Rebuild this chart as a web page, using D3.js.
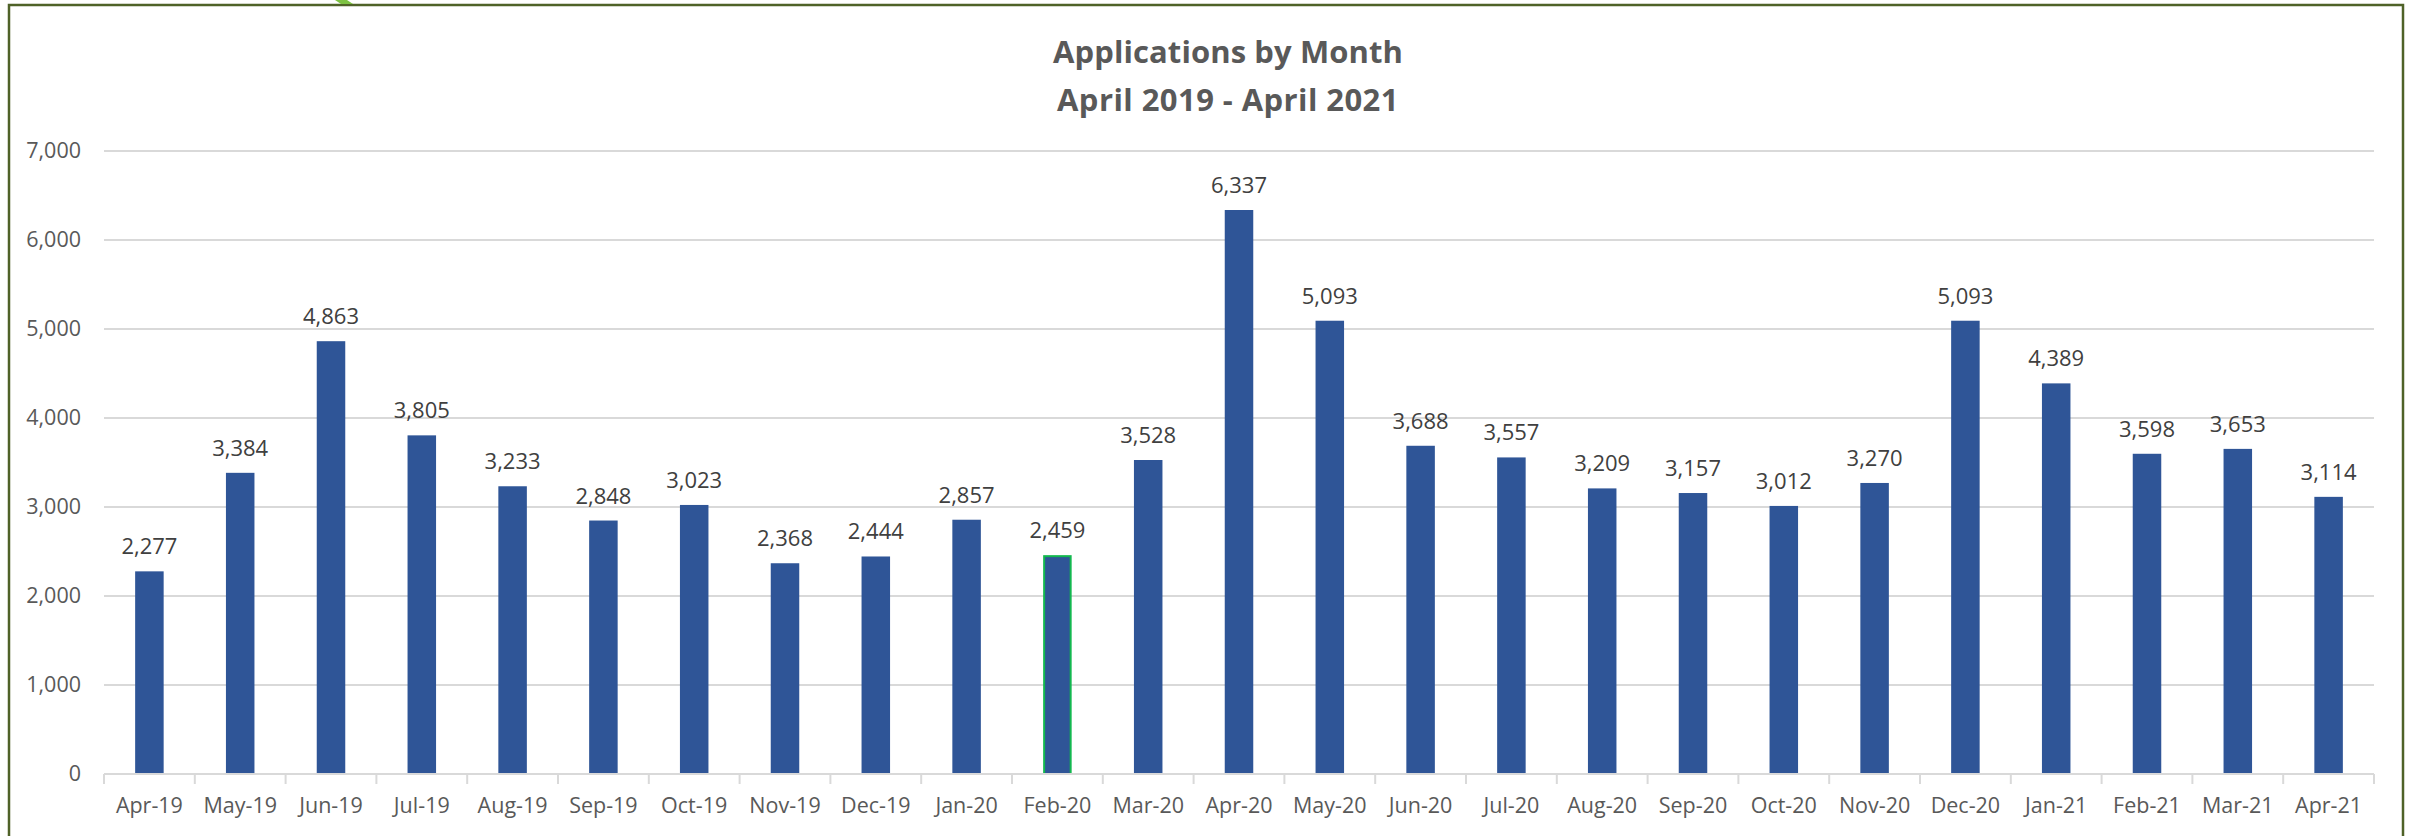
<!DOCTYPE html>
<html>
<head>
<meta charset="utf-8">
<script src="https://cdn.jsdelivr.net/npm/d3@7"></script>
<style>
  html, body { margin: 0; padding: 0; background: #fff; }
  svg { display: block; }
</style>
</head>
<body>
<svg id="chart" width="2415" height="836"></svg>
<script>
const months = ["Apr-19","May-19","Jun-19","Jul-19","Aug-19","Sep-19","Oct-19","Nov-19","Dec-19","Jan-20","Feb-20","Mar-20","Apr-20","May-20","Jun-20","Jul-20","Aug-20","Sep-20","Oct-20","Nov-20","Dec-20","Jan-21","Feb-21","Mar-21","Apr-21"];
const applications = [2277,3384,4863,3805,3233,2848,3023,2368,2444,2857,2459,3528,6337,5093,3688,3557,3209,3157,3012,3270,5093,4389,3598,3653,3114];
const yTicks = [0,1000,2000,3000,4000,5000,6000,7000];
const titleLines = ["Applications by Month", "April 2019 - April 2021"];
const highlighted = ["Feb-20"];

const svg = d3.select("#chart");
const plot = { left: 104, right: 2374, top: 151, bottom: 774 };
const fmt = d3.format(",");
const FONT = "'Open Sans', sans-serif";

// outer frame
svg.append("rect")
  .attr("x", 9).attr("y", 5).attr("width", 2394).attr("height", 860)
  .attr("fill", "#fff").attr("stroke", "#4F6228").attr("stroke-width", 2.5);
svg.append("polygon")
  .attr("points", "335,0 347,0 353,4 341,4")
  .attr("fill", "#7DC242");

const x = d3.scaleBand().domain(months).range([plot.left, plot.right])
  .paddingInner(0.686).paddingOuter(0.343);
const y = d3.scaleLinear().domain([0, 7000]).range([plot.bottom, plot.top]);

// gridlines
svg.append("g").selectAll("line").data(yTicks.filter(d => d > 0)).join("line")
  .attr("x1", plot.left).attr("x2", plot.right)
  .attr("y1", d => y(d)).attr("y2", d => y(d))
  .attr("stroke", "#D9D9D9").attr("stroke-width", 2);

// y axis labels
const yAxis = d3.axisLeft(y).tickValues(yTicks).tickFormat(fmt).tickSize(0).tickPadding(23);
const gy = svg.append("g").attr("transform", `translate(${plot.left},0)`).call(yAxis);
gy.select(".domain").remove();
gy.selectAll("text")
  .attr("fill", "#595959").attr("font-family", FONT).attr("font-size", 21.5);

// bars
svg.append("g").selectAll("rect").data(months).join("rect")
  .attr("x", (d) => x(d) + (highlighted.includes(d) ? 1 : 0))
  .attr("width", (d) => x.bandwidth() - (highlighted.includes(d) ? 2 : 0))
  .attr("y", (d, i) => y(applications[i]) + (highlighted.includes(d) ? 1 : 0))
  .attr("height", (d, i) => y(0) - y(applications[i]) - (highlighted.includes(d) ? 1 : 0))
  .attr("fill", "#2F5597")
  .attr("stroke", d => highlighted.includes(d) ? "#12B84E" : "none")
  .attr("stroke-width", 2);

// x axis
const step = x.step();
const boundaries = d3.range(months.length + 1).map(i => plot.left + i * step);
svg.append("line")
  .attr("x1", plot.left).attr("x2", plot.right)
  .attr("y1", y(0)).attr("y2", y(0))
  .attr("stroke", "#D9D9D9").attr("stroke-width", 2);
svg.append("g").selectAll("line").data(boundaries).join("line")
  .attr("x1", d => d).attr("x2", d => d)
  .attr("y1", y(0)).attr("y2", y(0) + 10)
  .attr("stroke", "#D9D9D9").attr("stroke-width", 2);
svg.append("g").selectAll("text").data(months).join("text")
  .attr("x", d => x(d) + x.bandwidth() / 2)
  .attr("y", 813)
  .attr("text-anchor", "middle")
  .attr("fill", "#595959").attr("font-family", FONT).attr("font-size", 21.5)
  .text(d => d);

// data labels
svg.append("g").selectAll("text").data(months).join("text")
  .attr("x", d => x(d) + x.bandwidth() / 2)
  .attr("y", (d, i) => y(applications[i]) - 17)
  .attr("text-anchor", "middle")
  .attr("fill", "#404040").attr("font-family", FONT).attr("font-size", 22)
  .text((d, i) => fmt(applications[i]));

// title
const targetWidths = [350, 342];
const baselines = [63, 111];
titleLines.forEach((t, i) => {
  const el = svg.append("text")
    .attr("x", 1228).attr("y", baselines[i])
    .attr("text-anchor", "middle")
    .attr("fill", "#595959")
    .attr("font-family", FONT)
    .attr("font-weight", "bold")
    .attr("font-size", 31)
    .text(t);
  const w = el.node().getComputedTextLength();
  const ls = Math.max(0, (targetWidths[i] - w) / t.length);
  el.attr("letter-spacing", ls.toFixed(2));
});
</script>
</body>
</html>
